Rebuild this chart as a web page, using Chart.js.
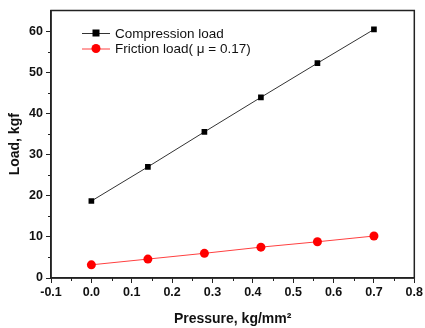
<!DOCTYPE html>
<html>
<head>
<meta charset="utf-8">
<script src="https://cdn.jsdelivr.net/npm/chart.js@4"></script>
<style>
  html, body { margin: 0; padding: 0; background: #fff; }
  #wrap { width: 425px; height: 328px; }
</style>
</head>
<body>
<div id="wrap"><canvas id="load"></canvas></div>
<script>
const pressure = [0.0, 0.14, 0.28, 0.42, 0.56, 0.70];
const compressionLoad = [18.7, 27.0, 35.5, 43.9, 52.2, 60.4];
const frictionLoad = [3.2, 4.6, 6.0, 7.5, 8.8, 10.2];
const xTicks = [-0.1, 0.0, 0.1, 0.2, 0.3, 0.4, 0.5, 0.6, 0.7, 0.8];
const yTicks = [0, 10, 20, 30, 40, 50, 60];

const fontFam = "'Liberation Sans', Arial, sans-serif";

// box round the plot + short minor ticks between the labelled ones
const framePlugin = {
  id: 'frame',
  afterDraw(chart) {
    const ctx = chart.ctx;
    const a = chart.chartArea;
    const xs = chart.scales.x;
    const ys = chart.scales.y;
    ctx.save();
    ctx.strokeStyle = '#222';
    ctx.lineWidth = 1.5;
    ctx.strokeRect(a.left, a.top, a.right - a.left, a.bottom - a.top);
    ctx.lineWidth = 1;
    ctx.beginPath();
    for (let i = 0; i < xTicks.length - 1; i++) {
      const px = Math.round(xs.getPixelForValue((xTicks[i] + xTicks[i + 1]) / 2)) + 0.5;
      ctx.moveTo(px, a.bottom);
      ctx.lineTo(px, a.bottom + 3);
    }
    for (let i = 0; i < yTicks.length - 1; i++) {
      const py = Math.round(ys.getPixelForValue((yTicks[i] + yTicks[i + 1]) / 2)) + 0.5;
      ctx.moveTo(a.left, py);
      ctx.lineTo(a.left - 3, py);
    }
    ctx.stroke();
    ctx.restore();
  }
};

// legend drawn inside the plot, top left
const innerLegend = {
  id: 'innerLegend',
  afterDraw(chart) {
    const ctx = chart.ctx;
    ctx.save();
    ctx.font = '13.5px ' + fontFam;
    ctx.textBaseline = 'middle';
    chart.data.datasets.forEach((ds, i) => {
      const y = 33 + i * 15.5;
      ctx.strokeStyle = ds.borderColor;
      ctx.lineWidth = 1;
      ctx.beginPath();
      ctx.moveTo(82, y + 0.5);
      ctx.lineTo(110, y + 0.5);
      ctx.stroke();
      ctx.fillStyle = ds.pointBackgroundColor;
      if (ds.pointStyle === 'rect') {
        ctx.fillRect(92.5, y - 3.5, 7, 7);
      } else {
        ctx.beginPath();
        ctx.arc(96, y, 4.5, 0, Math.PI * 2);
        ctx.fill();
      }
      ctx.fillStyle = '#111';
      ctx.fillText(ds.label, 115, y + 1);
    });
    ctx.restore();
  }
};

const ctx = document.getElementById('load').getContext('2d');

new Chart(ctx, {
  type: 'line',
  data: {
    datasets: [
      {
        label: 'Compression load',
        data: pressure.map((p, i) => ({ x: p, y: compressionLoad[i] })),
        borderColor: '#333',
        borderWidth: 1,
        pointStyle: 'rect',
        pointRadius: 4,
        pointBackgroundColor: '#000',
        pointBorderColor: '#000',
        pointBorderWidth: 0,
      },
      {
        label: 'Friction load( \u03bc = 0.17)',
        data: pressure.map((p, i) => ({ x: p, y: frictionLoad[i] })),
        borderColor: '#ff4040',
        borderWidth: 1,
        pointStyle: 'circle',
        pointRadius: 4.5,
        pointBackgroundColor: '#ff0000',
        pointBorderColor: '#ff0000',
        pointBorderWidth: 0,
      },
    ],
  },
  options: {
    responsive: true,
    maintainAspectRatio: false,
    animation: false,
    layout: { padding: { left: 7, top: 9, right: 8, bottom: 0 } },
    scales: {
      x: {
        type: 'linear',
        min: -0.1,
        max: 0.8,
        afterBuildTicks: (s) => { s.ticks = xTicks.map(v => ({ value: v })); },
        afterFit: (s) => { s.height = 50; },
        grid: { drawOnChartArea: false, tickLength: 5, tickColor: '#222', tickWidth: 1 },
        border: { color: '#222', width: 1.5 },
        ticks: {
          color: '#111',
          padding: 2,
          font: { family: fontFam, size: 12.5, weight: 'bold' },
          callback: (v) => v.toFixed(1),
        },
        title: {
          display: true,
          text: 'Pressure, kg/mm\u00b2',
          color: '#111',
          font: { family: fontFam, size: 14, weight: 'bold' },
          padding: { top: 7, bottom: 0 },
        },
      },
      y: {
        type: 'linear',
        min: 0,
        max: 65,
        afterBuildTicks: (s) => { s.ticks = yTicks.map(v => ({ value: v })); },
        afterFit: (s) => { s.width = 44; },
        grid: { drawOnChartArea: false, tickLength: 5, tickColor: '#222', tickWidth: 1 },
        border: { color: '#222', width: 1.5 },
        ticks: {
          color: '#111',
          padding: 3,
          font: { family: fontFam, size: 12.5, weight: 'bold' },
        },
        title: {
          display: true,
          text: 'Load, kgf',
          color: '#111',
          font: { family: fontFam, size: 14, weight: 'bold' },
          padding: { top: 0, bottom: 4 },
        },
      },
    },
    plugins: {
      legend: { display: false },
      tooltip: { enabled: false },
    },
  },
  plugins: [framePlugin, innerLegend],
});
</script>
</body>
</html>
